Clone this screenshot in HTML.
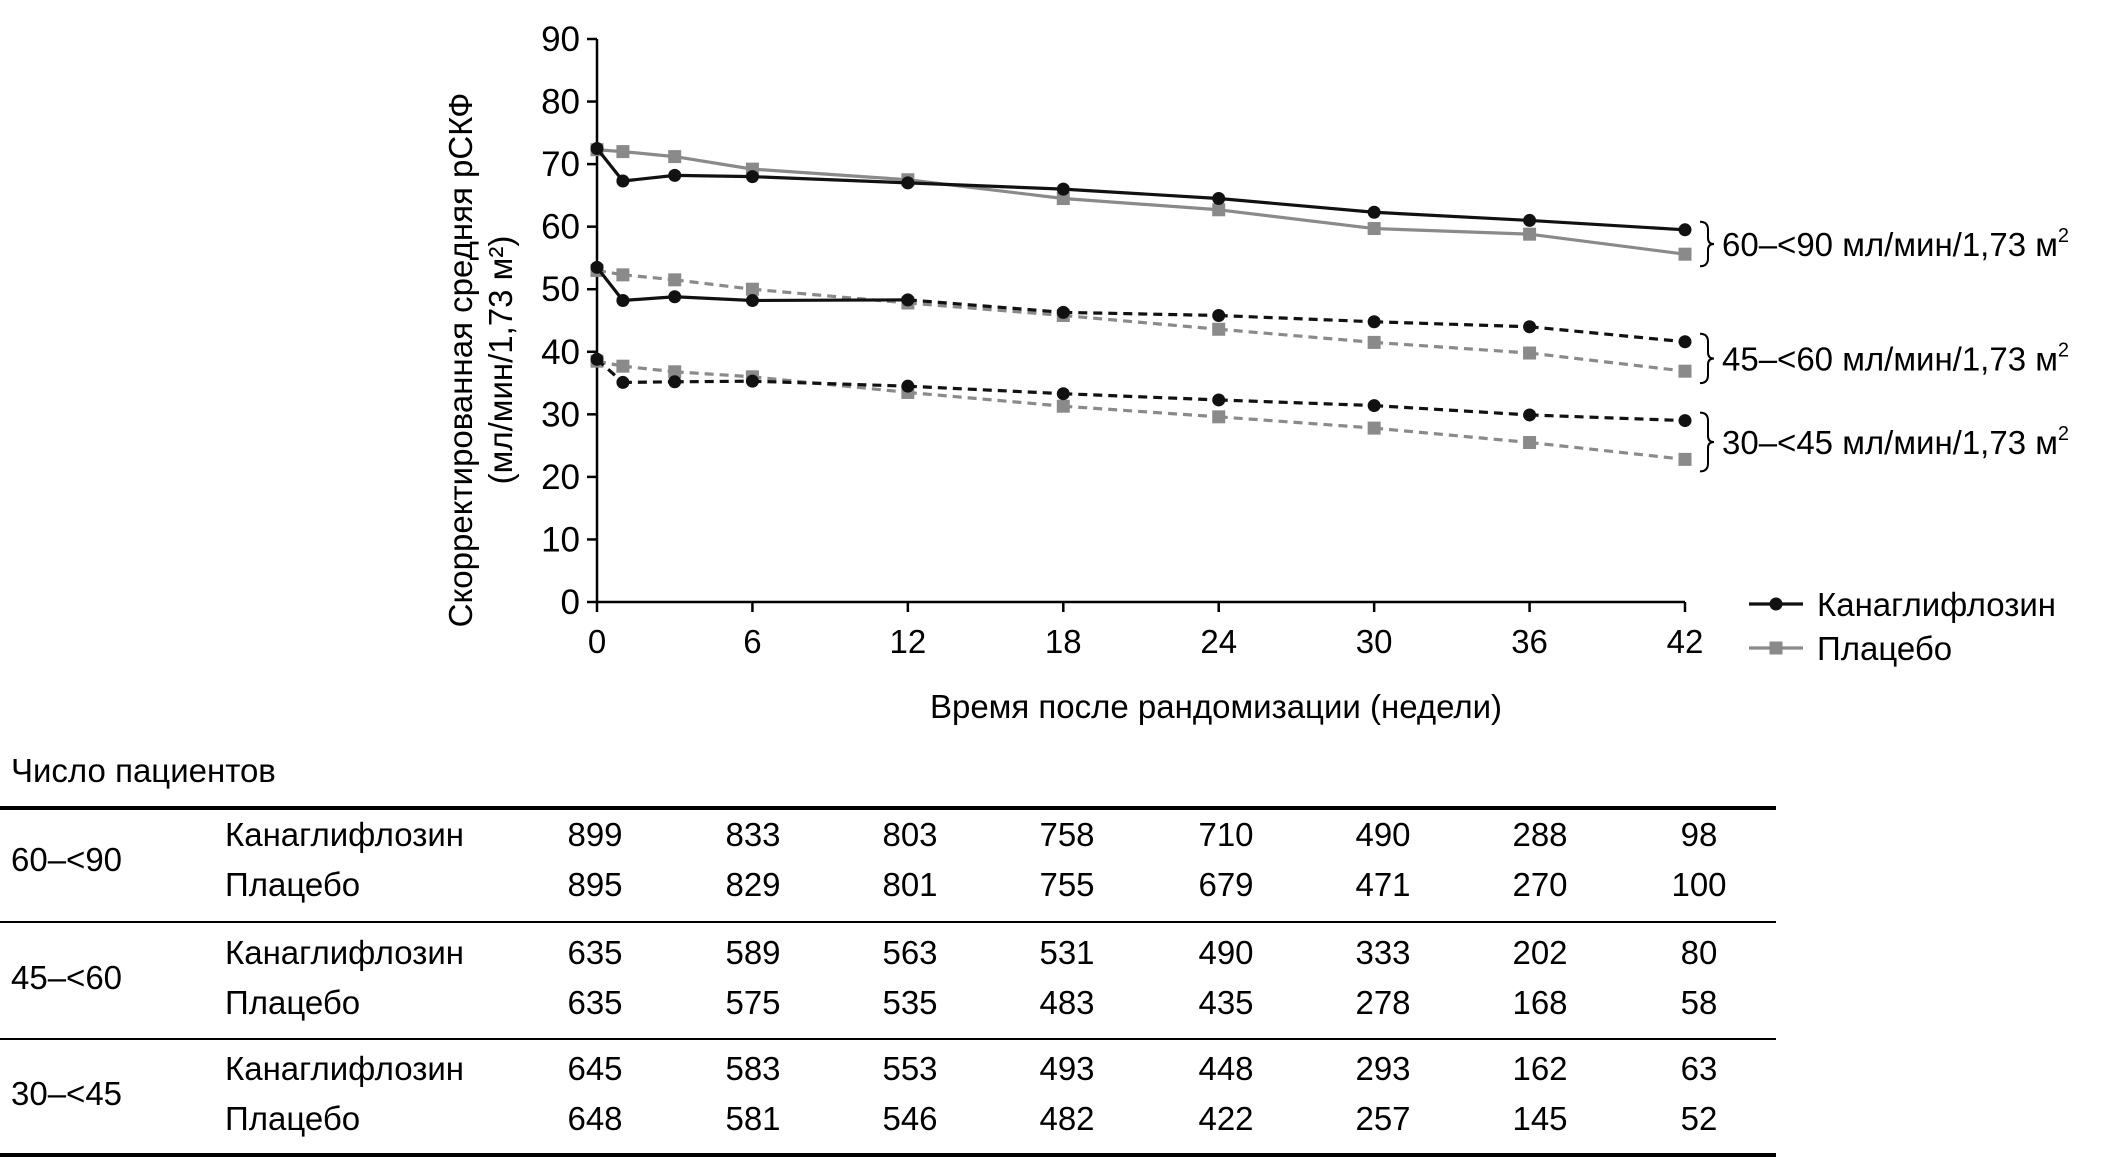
<!DOCTYPE html>
<html><head><meta charset="utf-8"><style>
html,body{margin:0;padding:0;background:#fff;}
svg{display:block;font-family:"Liberation Sans",sans-serif;}
</style></head><body>
<svg id="c" width="2126" height="1172" viewBox="0 0 2126 1172">
<g id="axes"></g>
<g id="marks"></g>
<g id="tbl"></g>
</svg>
<script>
const weeks=[0,1,3,6,12,18,24,30,36,42];
const xTicks=[0,6,12,18,24,30,36,42];
const yTicks=[0,10,20,30,40,50,60,70,80,90];
const cana60=[72.5,67.3,68.2,68,67,66,64.5,62.3,61,59.5];
const plac60=[72.3,72,71.2,69.2,67.5,64.5,62.7,59.7,58.8,55.6];
const cana45=[53.5,48.2,48.8,48.2,48.3,46.3,45.8,44.8,44,41.6];
const plac45=[53,52.3,51.5,50,47.8,45.8,43.6,41.5,39.8,36.9];
const cana30=[38.8,35.1,35.2,35.3,34.5,33.3,32.3,31.4,29.9,29];
const plac30=[38.5,37.7,36.8,36,33.5,31.3,29.6,27.8,25.5,22.8];
const groupLabels=["60–<90","45–<60","30–<45"];
const canaCounts=[[899,833,803,758,710,490,288,98],[635,589,563,531,490,333,202,80],[645,583,553,493,448,293,162,63]];
const placCounts=[[895,829,801,755,679,471,270,100],[635,575,535,483,435,278,168,58],[648,581,546,482,422,257,145,52]];

const NS="http://www.w3.org/2000/svg";
const X=w=>597+(w/42)*(1685-597);
const Y=v=>602-(v/90)*(602-39);
function mk(p,t,a,txt){const e=document.createElementNS(NS,t);for(const k in a)e.setAttribute(k,a[k]);if(txt!==undefined)e.textContent=txt;p.appendChild(e);return e;}
const ax=document.getElementById('axes'),mg=document.getElementById('marks'),tb=document.getElementById('tbl');

let e=mk(ax,'line',{x1:597,y1:39,x2:597,y2:602,stroke:'#000','stroke-width':2.5});

e=mk(ax,'line',{x1:597,y1:602,x2:1685,y2:602,stroke:'#000','stroke-width':2.5});

yTicks.forEach(v=>{
 mk(ax,'line',{x1:587,y1:Y(v),x2:597,y2:Y(v),stroke:'#000','stroke-width':2.5});
 e=mk(ax,'text',{x:580,y:Y(v)+12,'text-anchor':'end','font-size':35},v);
 
});
xTicks.forEach(v=>{
 mk(ax,'line',{x1:X(v),y1:602,x2:X(v),y2:612,stroke:'#000','stroke-width':2.5});
 e=mk(ax,'text',{x:X(v),y:653,'text-anchor':'middle','font-size':33},v);
 
});
e=mk(ax,'text',{x:1216,y:718,'text-anchor':'middle','font-size':33},'Время после рандомизации (недели)');

e=mk(ax,'text',{transform:'translate(472,360) rotate(-90)','text-anchor':'middle','font-size':33},'Скорректированная средняя рСКФ');

e=mk(ax,'text',{transform:'translate(512,360) rotate(-90)','text-anchor':'middle','font-size':33},'(мл/мин/1,73 м²)');


function series(vals,color,dashFrom,marker,name){
 for(let i=0;i<vals.length-1;i++){
  const dashed=dashFrom!==null&&i>=dashFrom;
  const l=mk(mg,'line',{x1:X(weeks[i]),y1:Y(vals[i]),x2:X(weeks[i+1]),y2:Y(vals[i+1]),stroke:color,'stroke-width':3.2});
  if(dashed)l.setAttribute('stroke-dasharray','9,6');
  
  
 }
 vals.forEach((v,i)=>{
  let m;
  if(marker==='c')m=mk(mg,'circle',{cx:X(weeks[i]),cy:Y(v),r:6.5,fill:color});
  else m=mk(mg,'rect',{x:X(weeks[i])-6.5,y:Y(v)-6.5,width:13,height:13,fill:color});
  
  
 });
}
series(plac60,'#8a8a8a',null,'s','placebo-60-90');
series(cana60,'#111',null,'c','canagliflozin-60-90');
series(plac45,'#8a8a8a',0,'s','placebo-45-60');
series(cana45,'#111',4,'c','canagliflozin-45-60');
series(plac30,'#8a8a8a',0,'s','placebo-30-45');
series(cana30,'#111',0,'c','canagliflozin-30-45');

[[cana60,plac60,'60–<90 мл/мин/1,73 м'],[cana45,plac45,'45–<60 мл/мин/1,73 м'],[cana30,plac30,'30–<45 мл/мин/1,73 м']].forEach((g,i)=>{
 const y1=Y(g[0][9])-8,y2=Y(g[1][9])+12,ym=(y1+y2)/2;
 const b=mk(ax,'path',{d:`M1700 ${y1} Q1708 ${y1} 1708 ${y1+8} L1708 ${ym-6} Q1708 ${ym} 1714 ${ym} Q1708 ${ym} 1708 ${ym+6} L1708 ${y2-8} Q1708 ${y2} 1700 ${y2}`,fill:'none',stroke:'#000','stroke-width':2});
 
 const t=mk(ax,'text',{x:1722,y:ym+12,'font-size':33},g[2]);
 mk(t,'tspan',{dy:-14,'font-size':20},'2');
 
});

e=mk(ax,'g',{});
mk(e,'line',{x1:1749,y1:604,x2:1803,y2:604,stroke:'#111','stroke-width':3.2});
mk(e,'circle',{cx:1776,cy:604,r:6.5,fill:'#111'});
mk(e,'text',{x:1817,y:616,'font-size':33},'Канаглифлозин');
e=mk(ax,'g',{});
mk(e,'line',{x1:1749,y1:648,x2:1803,y2:648,stroke:'#8a8a8a','stroke-width':3.2});
mk(e,'rect',{x:1769.5,y:641.5,width:13,height:13,fill:'#8a8a8a'});
mk(e,'text',{x:1817,y:660,'font-size':33},'Плацебо');

e=mk(tb,'text',{x:11,y:782,'font-size':33},'Число пациентов');

[[808,4],[922,2],[1039,2],[1155,4]].forEach(r=>{
 const l=mk(tb,'line',{x1:0,y1:r[0],x2:1776,y2:r[0],stroke:'#000','stroke-width':r[1]});
 
});
const colX=[595,753,910,1067,1226,1383,1540,1699];
const rowY=[[846,896],[964,1014],[1080,1130]];
groupLabels.forEach((g,i)=>{
 let t=mk(tb,'text',{x:11,y:(rowY[i][0]+rowY[i][1])/2,'font-size':33},g);
 
 t=mk(tb,'text',{x:225,y:rowY[i][0],'font-size':33},'Канаглифлозин');
 
 t=mk(tb,'text',{x:225,y:rowY[i][1],'font-size':33},'Плацебо');
 
 canaCounts[i].forEach((n,j)=>{const c=mk(tb,'text',{x:colX[j],y:rowY[i][0],'text-anchor':'middle','font-size':33},n);
  });
 placCounts[i].forEach((n,j)=>{const c=mk(tb,'text',{x:colX[j],y:rowY[i][1],'text-anchor':'middle','font-size':33},n);
  });
});
</script>
</body></html>
